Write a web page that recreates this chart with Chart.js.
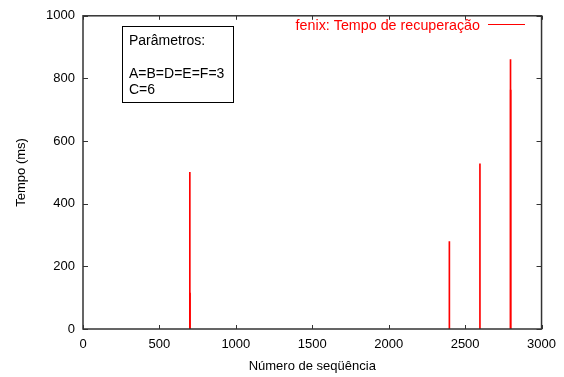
<!DOCTYPE html>
<html>
<head>
<meta charset="utf-8">
<script src="https://cdn.jsdelivr.net/npm/chart.js@4"></script>
<style>
  html, body { margin: 0; padding: 0; background: #fff; }
  #wrap { width: 564px; height: 377px; }
</style>
</head>
<body>
<div id="wrap"><canvas id="recoveryChart"></canvas></div>
<script>
// sequence number of each recovery and its duration (ms)
const seqNumbers = [699, 700, 2397, 2597, 2797, 2798];
const recoveryMs = [500, 115, 279, 527, 860, 763];
const xTicks = [0, 500, 1000, 1500, 2000, 2500, 3000];
const yTicks = [0, 200, 400, 600, 800, 1000];
const seriesLabel = "fenix: Tempo de recuperação";
const paramLines = ["Parâmetros:", "", "A=B=D=E=F=3", "C=6"];

const FONT = "Liberation Sans, Arial, Helvetica, sans-serif";
Chart.defaults.font.family = FONT;
Chart.defaults.font.size = 13;
Chart.defaults.color = "#000";

// gnuplot style frame: border, inner ticks on all four sides, key and text box
const gnuplotFrame = {
    id: "gnuplotFrame",
    afterDraw(chart) {
        const ctx = chart.ctx;
        const a = chart.chartArea;
        const xs = chart.scales.x, ys = chart.scales.y;
        ctx.save();
        ctx.strokeStyle = "#333";
        ctx.lineWidth = 1;
        ctx.beginPath();
        xTicks.forEach(v => {
            const px = Math.round(xs.getPixelForValue(v)) + 0.5;
            ctx.moveTo(px, a.bottom); ctx.lineTo(px, a.bottom - 4);
            ctx.moveTo(px, a.top); ctx.lineTo(px, a.top + 4);
        });
        yTicks.forEach(v => {
            const py = Math.round(ys.getPixelForValue(v)) + 0.5;
            ctx.moveTo(a.left, py); ctx.lineTo(a.left + 5, py);
            ctx.moveTo(a.right, py); ctx.lineTo(a.right - 5, py);
        });
        ctx.stroke();
        ctx.lineWidth = 1.5;
        ctx.strokeRect(a.left, a.top, a.right - a.left, a.bottom - a.top);

        // key
        const ds = chart.data.datasets[0];
        ctx.font = "14.3px " + FONT;
        ctx.fillStyle = ds.backgroundColor;
        ctx.textAlign = "right";
        ctx.textBaseline = "middle";
        ctx.fillText(ds.label, 480, 26);
        ctx.strokeStyle = ds.backgroundColor;
        ctx.lineWidth = 1;
        ctx.beginPath();
        ctx.moveTo(488, 24.5);
        ctx.lineTo(525, 24.5);
        ctx.stroke();

        // parameter box
        ctx.font = "14px " + FONT;
        ctx.strokeStyle = "#000";
        ctx.strokeRect(122.5, 26.5, 111, 76);
        ctx.fillStyle = "#000";
        ctx.textAlign = "left";
        const rowY = [41, 57, 74, 90];
        paramLines.forEach((t, i) => ctx.fillText(t, 129, rowY[i]));
        ctx.restore();
    }
};

const ctx = document.getElementById("recoveryChart").getContext("2d");
new Chart(ctx, {
    type: "bar",
    data: {
        datasets: [{
            label: seriesLabel,
            data: seqNumbers.map((x, i) => ({ x: x, y: recoveryMs[i] })),
            backgroundColor: "#ff0000",
            borderWidth: 0,
            barThickness: 1,
            grouped: false,
        }],
    },
    options: {
        responsive: true,
        maintainAspectRatio: false,
        animation: false,
        layout: { padding: { top: 13, right: 22, left: 14, bottom: 0 } },
        plugins: { legend: { display: false }, tooltip: { enabled: false } },
        scales: {
            x: {
                type: "linear",
                min: 0, max: 3000,
                offset: false,
                afterBuildTicks: s => { s.ticks = xTicks.map(v => ({ value: v })); },
                afterFit: s => { s.height = 48; },
                grid: { display: false, drawTicks: false },
                border: { display: false },
                ticks: { padding: 8, maxRotation: 0, color: "#000", callback: v => String(v) },
                title: { display: true, text: "Número de seqüência", padding: { top: 1, bottom: 3 }, color: "#000" },
            },
            y: {
                min: 0, max: 1000,
                afterBuildTicks: s => { s.ticks = yTicks.map(v => ({ value: v })); },
                afterFit: s => { s.width = 69; },
                grid: { display: false, drawTicks: false },
                border: { display: false },
                ticks: { padding: 8, color: "#000", callback: v => String(v) },
                title: { display: true, text: "Tempo (ms)", padding: { top: 0, bottom: 0 }, color: "#000" },
            },
        },
    },
    plugins: [gnuplotFrame],
});
</script>
</body>
</html>
